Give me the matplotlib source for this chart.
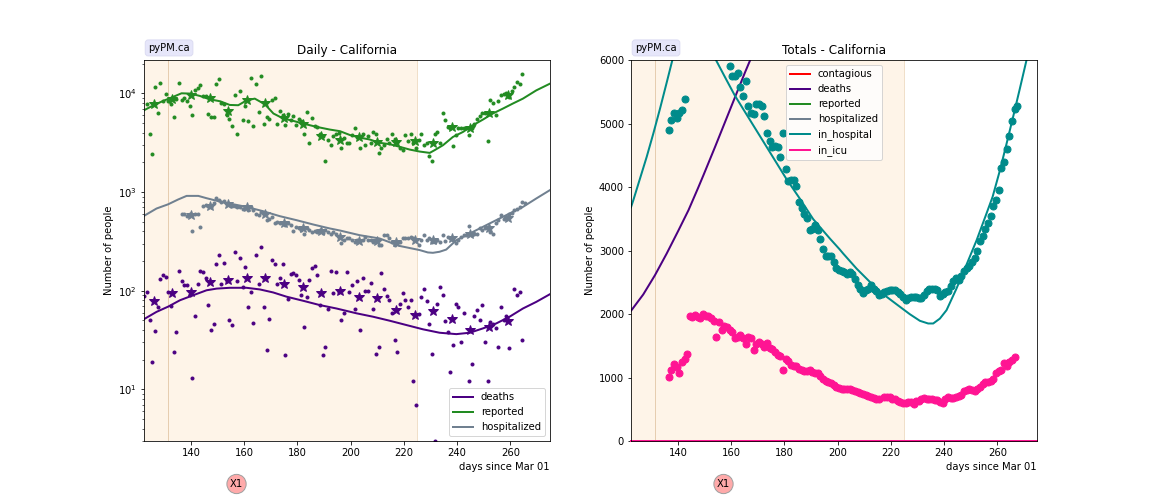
import matplotlib
matplotlib.use("Agg")
import matplotlib.pyplot as plt
import numpy as np

nan = np.nan

# daily points, one value per day, the first day is given by the *_start value
reported_start = 123.5
reported_daily = [
    7870, 3910, 2400, 11700, 6380, 12800, 8370, 9930, 8430, 7870,
    5810, 8800, 12800, 8630, 9000, 8430, 7500, 6080, 10800, 11300,
    12000, 9400, 9400, 6240, 5810, 5810, 12500, 14100, 8050, 7740,
    6080, 5550, 4710, 9700, 3910, 10650, 5420, 7500, 5300, 14400,
    4710, 12500, 6530, 15100, 4940, 5810, 5550, 8630, 9040, 4940,
    6680, 6000, 4820, 6240, 5420, 5940, 4820, 5550, 5200, 3910,
    6530, 3100, 5680, 4710, 4600, 3900, 3700, 2080, 3400, 2960,
    3650, 3910, 4000, 2760, 3560, 3100, 3100, 3800, 4400, 3600,
    2820, 3910, 2960, 3650, 3100, 4090, 3840, 2460, 2820, 2960,
    3480, 3100, 3840, 3480, 3220, 2820, 2690, 3740, 3300, 3840,
    3100, 2760, 3400, 3910, 2960, 3100, 2340, 2080, 3910, 4090,
    3170, 6380, 5420, 4600, 4400, 2900, 3740, 4400, 4400, 4400,
    4400, 3740, 4500, 4940, 5550, 5940, 6380, 6380, 3300, 8630,
    8050, 6080, 8430, 9500, 9930, 10100, 9150, 10650, 11700, 13100,
    12500, 15600,
]

hospitalized_start = 136.5
hospitalized_daily = [
    600, 605, 569, 605, 404, 605, 605, 447, 718, 746,
    722, 706, 765, 879, 826, 794, 810, 751, 751, 722,
    716, 706, 706, 680, 706, 654, 706, 654, 605, 582,
    629, 595, 518, 538, 559, 480, 491, 480, 488, 461,
    480, 461, 404, 437, 427, 415, 379, 427, 410, 394,
    404, 394, 410, 385, 410, 394, 379, 394, 374, 351,
    301, 325, 338, 338, 325, 313, 325, 320, 325, 351,
    330, 325, 313, 325, 289, 289, 365, 365, 338, 313,
    289, 301, 308, 338, 338, 345, 351, 338, 325, 289,
    325, 365, 325, 338, 313, 313, 325, 313, 365, 320,
    351, 338, 325, 301, 325, 351, 365, 365, 451, 365,
    379, 374, 427, 410, 427, 444, 394, 374, 480, 518,
    582, 538, 559, 605, 612, 654, 680, 706, 794, 765,
]

deaths_start = 122.5
deaths_daily = [
    88, 96, 50, 18.8, 38.7, 67.6, 130, 143, 139, 96,
    70, 23.7, 37.8, 160, 124, 113, 113, 90, 12.9, 55,
    118, 157, 153, 136, 71, 39.6, 45.5, 185, 228, 118,
    189, 125, 51, 44.5, 244, 124, 212, 110, 172, 69,
    98, 46.6, 228, 116, 274, 69, 24.8, 52, 207, 185,
    118, 136, 185, 22.1, 81.5, 146, 150, 143, 127, 90,
    42.5, 85.5, 127, 168, 176, 143, 71.5, 22.1, 26.7, 64.5,
    160, 94, 153, 96, 51, 60, 153, 96, 113, 66,
    124, 39.6, 133, 100, 100, 121, 66, 22.6, 26.7, 150,
    103, 87.5, 80, 60, 32, 23.7, 72.6, 94, 80, 67.6,
    80, 12.1, 6.9, 57.5, 85.5, 103, 77.8, 45.5, 22.6, 3,
    72.6, 110, 90, 49, 37.8, 14.9, 28, 74, 69, 30,
    59, nan, 12.1, 17.9, 56, 63, 51, 71, 30, 12.1,
    47.8, 45.5, 41.5, 26.7, 69, 50, 55, 26, nan, 105,
    90, 98, 32,
]

# weekly averages (stars)
star_days = [126, 133, 140, 147, 154, 161, 168, 175, 182, 189,
             196, 203, 210, 217, 224, 231, 238, 245, 252, 259]
reported_weekly = [7700, 8770, 9540, 8970, 6570, 8630, 7930, 5640, 4900, 3730,
                   3400, 3610, 3220, 3220, 3300, 3100, 4600, 4430, 6380, 9620]
deaths_weekly = [78.5, 94, 97, 122, 129, 134, 134, 118, 110, 94,
                 100, 86, 84, 64, 56.6, 62, 51.5, 39.6, 42.8, 48.9]
hosp_star_days = star_days[2:]
hospitalized_weekly = [578, 722, 751, 706, 595, 480, 427, 404, 351, 320,
                       320, 308, 330, 325, 338, 374, 427, 551]

# model curves, left panel
reported_curve_days = [122.4, 126, 129.6, 133.3, 136.5, 139.8, 143.4, 147, 151, 154.6, 157.8, 161, 164,
                       167.8, 171, 174.7, 178.4, 182.2, 187.2, 192.2, 196, 199.7, 203.4, 207.2, 210.9,
                       214.7, 218.4, 222.2, 225.9, 229.7, 231.5, 234.7, 238.4, 242.2, 245.9, 249.7,
                       253.4, 257.2, 260.9, 264.7, 269.7, 274.8]
reported_curve = [6730, 7570, 8370, 9190, 10000, 9930, 9400, 8700, 8300, 7620, 7570, 8500, 8830,
                  7740, 6240, 5550, 5260, 4930, 4570, 4290, 4130, 3780, 3560, 3400, 3150,
                  3050, 2870, 2690, 2570, 2490, 2650, 2980, 3610, 4060, 4740, 5420,
                  6240, 7000, 7870, 8830, 10700, 12500]
hospitalized_curve_days = [122.4, 127.1, 131.5, 135.2, 138.4, 142.8, 145.9, 150.3, 154.6, 160.9, 167.2,
                           173.4, 179.7, 186, 192.2, 196, 203.4, 210.9, 218.4, 225.9, 229, 230.9, 233.4,
                           235.9, 239.7, 245.9, 252.2, 258.4, 264.7, 269.7, 274.8]
hospitalized_curve = [573, 680, 751, 839, 913, 913, 865, 807, 764, 706, 638,
                      569, 518, 468, 427, 407, 365, 338, 284, 258, 244, 242, 248,
                      261, 325, 394, 480, 582, 706, 859, 1043]
deaths_curve_days = [122.4, 127.1, 131.5, 135.9, 140.9, 145.9, 149.7, 154.6, 160.9, 165.9, 170.9, 175.9,
                     182.2, 188.4, 194.7, 202.2, 208.4, 214.7, 220.9, 227.2, 233.4, 239.7, 244.7,
                     249.7, 254.7, 259.7, 264.7, 269.7, 274.8]
deaths_curve = [51.5, 61, 69, 80, 90, 101, 105, 107, 107, 103, 96, 87,
                79, 71.5, 66, 59, 54.5, 49.6, 44.9, 40.6, 37.5, 36.3, 37.5,
                41.5, 46.6, 54.5, 66, 77, 92]

# totals, right panel
in_hospital_start = 136.5
in_hospital_points = [
    4908, 5065, 5175, 5090, 5175, 5222, 5396, nan, nan, nan,
    nan, nan, nan, nan, nan, nan, nan, nan, nan, nan,
    nan, nan, nan, 5915, 5758, 5758, 5805, 5585, 5443, 5679,
    5286, 5175, 5160, 5317, 5317, 5286, 5128, 4860, 4734, 4640,
    4655, 4640, 4482, 4860, 4293, 4104, 4120, 4120, 4025, 3775,
    3680, 3585, 3523, 3333, 3349, 3412, 3323, 3192, 3034, 2924,
    2924, 2924, 2830, 2735, 2703, 2677, 2660, 2640, 2667, 2640,
    2560, 2460, 2404, 2336, 2380, 2404, 2457, 2400, 2362, 2299,
    2320, 2352, 2370, 2378, 2378, 2378, 2350, 2315, 2270, 2220,
    2250, 2273, 2273, 2273, 2262, 2262, 2300, 2360, 2394, 2394,
    2390, 2378, 2283, 2320, 2352, 2368, 2440, 2530, 2578, 2546,
    2600, 2680, 2735, 2756, 2820, 2890, 3000, 3150, 3240, 3350,
    3440, 3540, 3700, 3800, 3962, 4309, 4404, 4608, 4813, 5049,
    5238, 5285,
]
in_icu_start = 136.5
in_icu_points = [
    1013, 1124, 1208, 1171, 1066, 1250, 1292, 1365, 1968, 1953,
    1984, 1950, 1932, 1995, 1968, 1968, 1932, 1890, 1633, 1869,
    1758, 1806, 1795, 1743, 1711, 1617, 1633, 1664, 1617, 1522,
    1633, 1617, 1428, 1522, 1554, 1522, 1475, 1538, 1459, 1443,
    1407, 1355, 1344, 1113, 1287, 1265, 1197, 1190, 1187, 1129,
    1118, 1110, 1108, 1118, 1092, 1075, 1066, 1024, 977, 945,
    930, 910, 885, 856, 835, 825, 814, 814, 814, 800,
    788, 770, 761, 735, 720, 705, 690, 675, 670, 667,
    nan, 688, 688, 688, 670, 656, 630, 609, 600, 593,
    620, 610, 583, 630, 630, 660, 672, 660, 656, 656,
    650, 646, 620, 604, 670, 698, 672, 685, 698, 715,
    725, 790, 803, 814, 805, 793, 825, 850, 900, 925,
    935, 950, 985, 1066, 1100, 1118, 1234, 1182, 1250, 1280,
    1318,
]

in_hospital_curve_days = [122.4, 123.3, 125.8, 128.3, 130.8, 133.3, 135.8, 137.9, 138.9, 146, 154.4, 158.3,
                          161.4, 166.4, 170.8, 175.8, 180.8, 185.8, 190.8, 195.8, 197.1, 200.8, 202.1, 207.1,
                          212.1, 217.1, 222.1, 227.1, 230.9, 234, 235.9, 238.4, 240.9, 244.6, 248.4, 252.2,
                          255.9, 258.2, 260.9, 263.4, 265.9, 268.4, 270.9, 272.8]
in_hospital_curve = [3685, 3800, 4140, 4480, 4850, 5240, 5650, 6000, 6170, 7100, 6000, 5690,
                     5448, 5108, 4810, 4470, 4130, 3822, 3500, 3255, 3192, 3020, 2955, 2719,
                     2509, 2315, 2157, 2000, 1895, 1853, 1853, 1930, 2063, 2400, 2780, 3166,
                     3586, 3850, 4260, 4680, 5110, 5550, 5999, 6340]
deaths_total_days = [122.4, 127, 131.4, 135.8, 140.1, 144, 147.6, 149.6, 154, 158.3, 161.4, 165.2, 167.1, 169]
deaths_total = [2052, 2310, 2614, 2955, 3310, 3640, 3990, 4190, 4640, 5090, 5414, 5810, 6000, 6200]

x_left, x_right = 122.4, 274.8
start_day, end_day = 131.5, 225


def daily_x(start, values):
    return start + np.arange(len(values))


def decorate(ax, title):
    ax.axvspan(x_left, end_day, facecolor="#fef4e8", lw=0, zorder=0)
    ax.axvline(start_day, color="#e6cdb0", lw=1, zorder=1)
    ax.axvline(end_day, color="#f0dfc9", lw=1, zorder=1)
    ax.set_xlim(x_left, x_right)
    ax.set_title(title)
    ax.set_ylabel("Number of people")
    ax.set_xlabel("days since Mar 01", ha="right", x=1.0)
    ax.text(0.0105, 1.033, "pyPM.ca", transform=ax.transAxes, fontsize=10, va="center",
            bbox=dict(boxstyle="round,pad=0.3", fc="#e6e6fa", ec="#dcdcf2"))
    ax.text(0.228, -0.113, "X1", transform=ax.transAxes, fontsize=10, ha="center", va="center", clip_on=False,
            bbox=dict(boxstyle="circle,pad=0.3", fc="#ffaaaa", ec="#a0a0a0"))


fig, (ax1, ax2) = plt.subplots(1, 2, figsize=(16, 7), dpi=72)
fig.subplots_adjust(bottom=0.125)

# Daily
ax1.plot(deaths_curve_days, deaths_curve, color="indigo", lw=2, label="deaths")
ax1.plot(reported_curve_days, reported_curve, color="forestgreen", lw=2, label="reported")
ax1.plot(hospitalized_curve_days, hospitalized_curve, color="slategrey", lw=2, label="hospitalized")
ax1.plot(daily_x(deaths_start, deaths_daily), deaths_daily, "o", color="indigo", ms=3)
ax1.plot(daily_x(reported_start, reported_daily), reported_daily, "o", color="forestgreen", ms=3)
ax1.plot(daily_x(hospitalized_start, hospitalized_daily), hospitalized_daily, "o", color="slategrey", ms=3)
ax1.plot(star_days, deaths_weekly, "*", color="indigo", ms=10)
ax1.plot(star_days, reported_weekly, "*", color="forestgreen", ms=10)
ax1.plot(hosp_star_days, hospitalized_weekly, "*", color="slategrey", ms=10)
ax1.set_yscale("log")
ax1.set_ylim(3, 21500)
decorate(ax1, "Daily - California")
ax1.legend(loc="lower right")

# Totals
ax2.plot([x_left, x_right], [0, 0], color="red", lw=2, label="contagious", clip_on=False)
ax2.plot(deaths_total_days, deaths_total, color="indigo", lw=2, label="deaths")
ax2.plot([x_left, x_right], [0, 0], color="forestgreen", lw=2, label="reported", clip_on=False)
ax2.plot([x_left, x_right], [0, 0], color="slategrey", lw=2, label="hospitalized", clip_on=False)
ax2.plot(in_hospital_curve_days, in_hospital_curve, color="darkcyan", lw=2, label="in_hospital")
ax2.plot([x_left, x_right], [0, 0], color="deeppink", lw=2, label="in_icu", clip_on=False)
ax2.plot(daily_x(in_hospital_start, in_hospital_points), in_hospital_points, "o", color="darkcyan", ms=7)
ax2.plot(daily_x(in_icu_start, in_icu_points), in_icu_points, "o", color="deeppink", ms=7)
ax2.set_ylim(0, 6000)
decorate(ax2, "Totals - California")
ax2.legend(loc="upper center")

plt.savefig("out.png", dpi=72)
